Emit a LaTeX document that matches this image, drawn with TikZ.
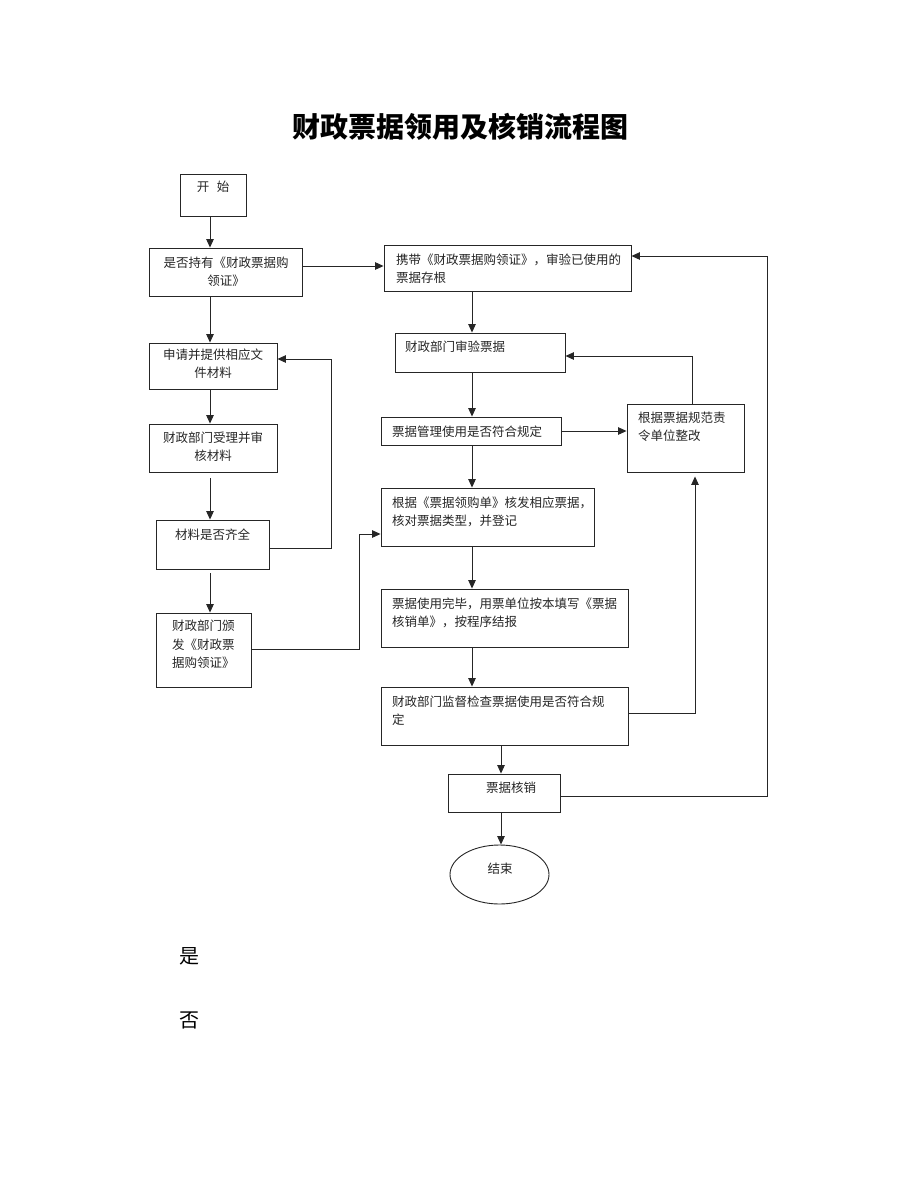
\documentclass[tikz,border=0pt]{standalone}
\usepackage{fontspec}
\newfontfamily\cjk{Noto Sans CJK SC}
\usetikzlibrary{arrows.meta,shapes.geometric}
\begin{document}
\begin{tikzpicture}[x=1pt,y=-1pt,
  box/.style={draw=black!85,line width=0.9pt,rectangle,inner sep=0pt},
  txt/.style={font=\cjk\fontsize{12.5}{17.5}\selectfont,text=black!85,inner sep=0pt},
  conn/.style={draw=black!85,line width=0.9pt},
  arr/.style={conn,-{Triangle[length=8.5pt,width=7.5pt]}}]
\path[use as bounding box] (0,0) rectangle (920,1191);
\fill[white] (0,0) rectangle (920,1191);
% title
\node[font=\cjk\bfseries\fontsize{28}{30}\selectfont,inner sep=0pt] (title) at (460,127) {财政票据领用及核销流程图};
% boxes
\node[box,minimum width=66pt,minimum height=42pt] (start) at (213,195) {};
\node[box,minimum width=153pt,minimum height=48pt] (q1) at (225.5,272) {};
\node[box,minimum width=247pt,minimum height=46pt] (carry) at (507.5,268) {};
\node[box,minimum width=128pt,minimum height=46pt] (apply) at (213,366) {};
\node[box,minimum width=170pt,minimum height=39pt] (verify) at (480,352.5) {};
\node[box,minimum width=128pt,minimum height=48pt] (accept) at (213,448) {};
\node[box,minimum width=180pt,minimum height=28pt] (manage) at (471,431) {};
\node[box,minimum width=117pt,minimum height=68pt] (rectify) at (685.5,438) {};
\node[box,minimum width=113pt,minimum height=49pt] (complete) at (212.5,544.5) {};
\node[box,minimum width=213pt,minimum height=58pt] (issue) at (487.5,517) {};
\node[box,minimum width=95pt,minimum height=74pt] (grant) at (203.5,650) {};
\node[box,minimum width=247pt,minimum height=58pt] (used) at (504.5,618) {};
\node[box,minimum width=247pt,minimum height=58pt] (check) at (504.5,716) {};
\node[box,minimum width=112pt,minimum height=38pt] (cancel) at (504,793) {};
\node[draw=black!85,line width=0.9pt,ellipse,minimum width=99pt,minimum height=59pt,inner sep=0pt] (end) at (499.5,874.5) {};
% texts
\node[txt] (tstart) at (213,187) {开\hspace{0.6em}始};
\node[txt,anchor=north,align=center] (tq1) at (226,257) {是否持有《财政票据购\\领证》};
\node[txt,anchor=north west,align=left] (tcarry) at (396,254) {携带《财政票据购领证》，审验已使用的\\票据存根};
\node[txt,anchor=north,align=center] (tapply) at (213,349) {申请并提供相应文\\件材料};
\node[txt,anchor=west] (tverify) at (405,347) {财政部门审验票据};
\node[txt,anchor=north,align=center] (taccept) at (213,432) {财政部门受理并审\\核材料};
\node[txt,anchor=west] (tmanage) at (392,432) {票据管理使用是否符合规定};
\node[txt,anchor=north west,align=left] (trectify) at (638,412) {根据票据规范责\\令单位整改};
\node[txt] (tcomplete) at (212.5,535) {材料是否齐全};
\node[txt,anchor=north west,align=left] (tissue) at (392,497) {根据《票据领购单》核发相应票据，\\核对票据类型，并登记};
\node[txt,anchor=north west,align=left,font=\cjk\fontsize{12.5}{18.5}\selectfont] (tgrant) at (172,620) {财政部门颁\\发《财政票\\据购领证》};
\node[txt,anchor=north west,align=left] (tused) at (392,598) {票据使用完毕，用票单位按本填写《票据\\核销单》，按程序结报};
\node[txt,anchor=north west,align=left] (tcheck) at (392,696) {财政部门监督检查票据使用是否符合规\\定};
\node[txt] (tcancel) at (511,788) {票据核销};
\node[txt] (tend) at (500,869) {结束};
\node[font=\cjk\fontsize{20}{22}\selectfont,inner sep=0pt] (yes) at (189,956) {是};
\node[font=\cjk\fontsize{20}{22}\selectfont,inner sep=0pt] (no) at (189,1020) {否};
% helper coordinates
\coordinate (xL) at (210,0);
\coordinate (xR) at (472,0);
\coordinate (xC) at (501,0);
\coordinate (y1) at (0,266);
\coordinate (k1) at (692,356);
\coordinate (k2) at (331,548);
\coordinate (k3) at (331,359);
\coordinate (k4) at (359,649);
\coordinate (k5) at (359,534);
\coordinate (k6) at (695,713);
\coordinate (k7) at (767,796);
\coordinate (k8) at (767,256);
% left column
\draw[arr] (start.south -| xL) -- (q1.north -| xL);
\draw[arr] (q1.south -| xL) -- (apply.north -| xL);
\draw[arr] (apply.south -| xL) -- (accept.north -| xL);
\draw[arr,shorten <=6pt] (accept.south -| xL) -- (complete.north -| xL);
\draw[arr,shorten <=4pt] (complete.south -| xL) -- (grant.north -| xL);
\draw[arr] (q1.east |- y1) -- (carry.west |- y1);
\draw[arr] (complete.east |- k2) -- (k2) -- (k3) -- (apply.east |- k3);
\draw[arr] (grant.east |- k4) -- (k4) -- (k5) -- (issue.west |- k5);
% right column
\draw[arr] (carry.south -| xR) -- (verify.north -| xR);
\draw[arr] (verify.south -| xR) -- (manage.north -| xR);
\draw[arr] (manage.east) -- (rectify.west |- manage.east);
\draw[arr] (rectify.north -| k1) -- (k1) -- (verify.east |- k1);
\draw[arr] (manage.south -| xR) -- (issue.north -| xR);
\draw[arr] (issue.south -| xR) -- (used.north -| xR);
\draw[arr] (used.south -| xR) -- (check.north -| xR);
\draw[arr,shorten >=4pt] (check.east |- k6) -- (k6) -- (rectify.south -| k6);
\draw[arr] (check.south -| xC) -- (cancel.north -| xC);
\draw[arr] (cancel.east |- k7) -- (k7) -- (k8) -- (carry.east |- k8);
\draw[arr] (cancel.south -| xC) -- (end.north -| xC);
\end{tikzpicture}
\end{document}
